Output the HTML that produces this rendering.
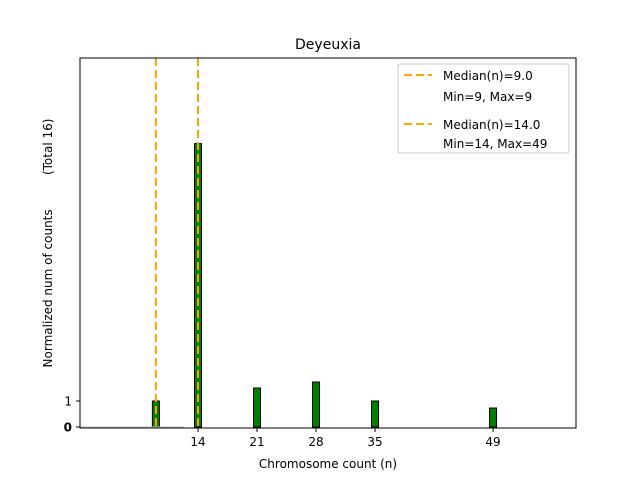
<!DOCTYPE html>
<html><head><meta charset="utf-8"><style>
body{margin:0;background:#fff;font-family:"DejaVu Sans","Liberation Sans",sans-serif}
svg text{font-family:"DejaVu Sans","Liberation Sans",sans-serif;fill:#000}
</style></head><body>
<svg id="chart" width="640" height="480" viewBox="0 0 640 480" xmlns="http://www.w3.org/2000/svg">
<rect width="640" height="480" fill="#fff"/>
<text x="328" y="49" font-size="14" text-anchor="middle">Deyeuxia</text>
<g id="bars"></g>
<g id="medians"></g>
<line x1="80" y1="427" x2="184" y2="427" stroke="#bbb" stroke-width="1"/>
<rect x="80" y="58" width="496" height="370" fill="none" stroke="#000" stroke-width="1"/>
<g id="xticks"></g>
<g id="yticks"></g>
<text x="328" y="468" font-size="12" text-anchor="middle">Chromosome count (n)</text>
<text transform="translate(52,243) rotate(-90)" font-size="12" text-anchor="middle" xml:space="preserve">Normalized num of counts         (Total 16)</text>
<g>
<rect x="398" y="64" width="171" height="89" rx="2" fill="#fff" stroke="#ccc"/>
<line x1="404" y1="75" x2="432" y2="75" stroke="orange" stroke-width="2" stroke-dasharray="8,4"/>
<text x="443" y="80" font-size="12">Median(n)=9.0</text>
<text x="443" y="101" font-size="12">Min=9, Max=9</text>
<line x1="404" y1="124" x2="432" y2="124" stroke="orange" stroke-width="2" stroke-dasharray="8,4"/>
<text x="443" y="129" font-size="12">Median(n)=14.0</text>
<text x="443" y="148" font-size="12">Min=14, Max=49</text>
</g>
</svg>
<script>
const categories=[9,14,21,28,35,49];
const values=[1,10.9,1.5,1.73,1,0.73];
const medians=[9,14];
const xTicks=[14,21,28,35,49];
const yTicks=[0,1];
const NS="http://www.w3.org/2000/svg";
function xs(v){return 80+v*8.43;}
function ys(v){return 427-v*26;}
function mk(t,a,p){const e=document.createElementNS(NS,t);for(const k in a)e.setAttribute(k,a[k]);p.appendChild(e);return e;}
const bars=document.getElementById('bars');
categories.forEach((c,i)=>{
  const r=mk('rect',{x:xs(c)-3.5,y:ys(values[i]),width:7,height:ys(0)-ys(values[i]),fill:'green',stroke:'#000','stroke-width':1},bars);
  
  
});
const med=document.getElementById('medians');
medians.forEach(m=>{
  const l=mk('line',{x1:xs(m),x2:xs(m),y1:58,y2:428,stroke:'orange','stroke-width':2,'stroke-dasharray':'8,4'},med);
  
  
});
const xt=document.getElementById('xticks');
xTicks.forEach(t=>{
  mk('line',{x1:xs(t),x2:xs(t),y1:428,y2:432,stroke:'#000'},xt);
  const tx=mk('text',{x:xs(t),y:446,'font-size':12,'text-anchor':'middle'},xt);
  tx.textContent=t;
  
  
});
const yt=document.getElementById('yticks');
yTicks.forEach(t=>{
  mk('line',{x1:76,x2:80,y1:ys(t),y2:ys(t),stroke:'#000'},yt);
  const tx=mk('text',{x:72,y:ys(t)+4.5,'font-size':12,'text-anchor':'end','font-weight':t===0?'bold':'normal'},yt);
  tx.textContent=t;
  
  
});
</script>
</body></html>
